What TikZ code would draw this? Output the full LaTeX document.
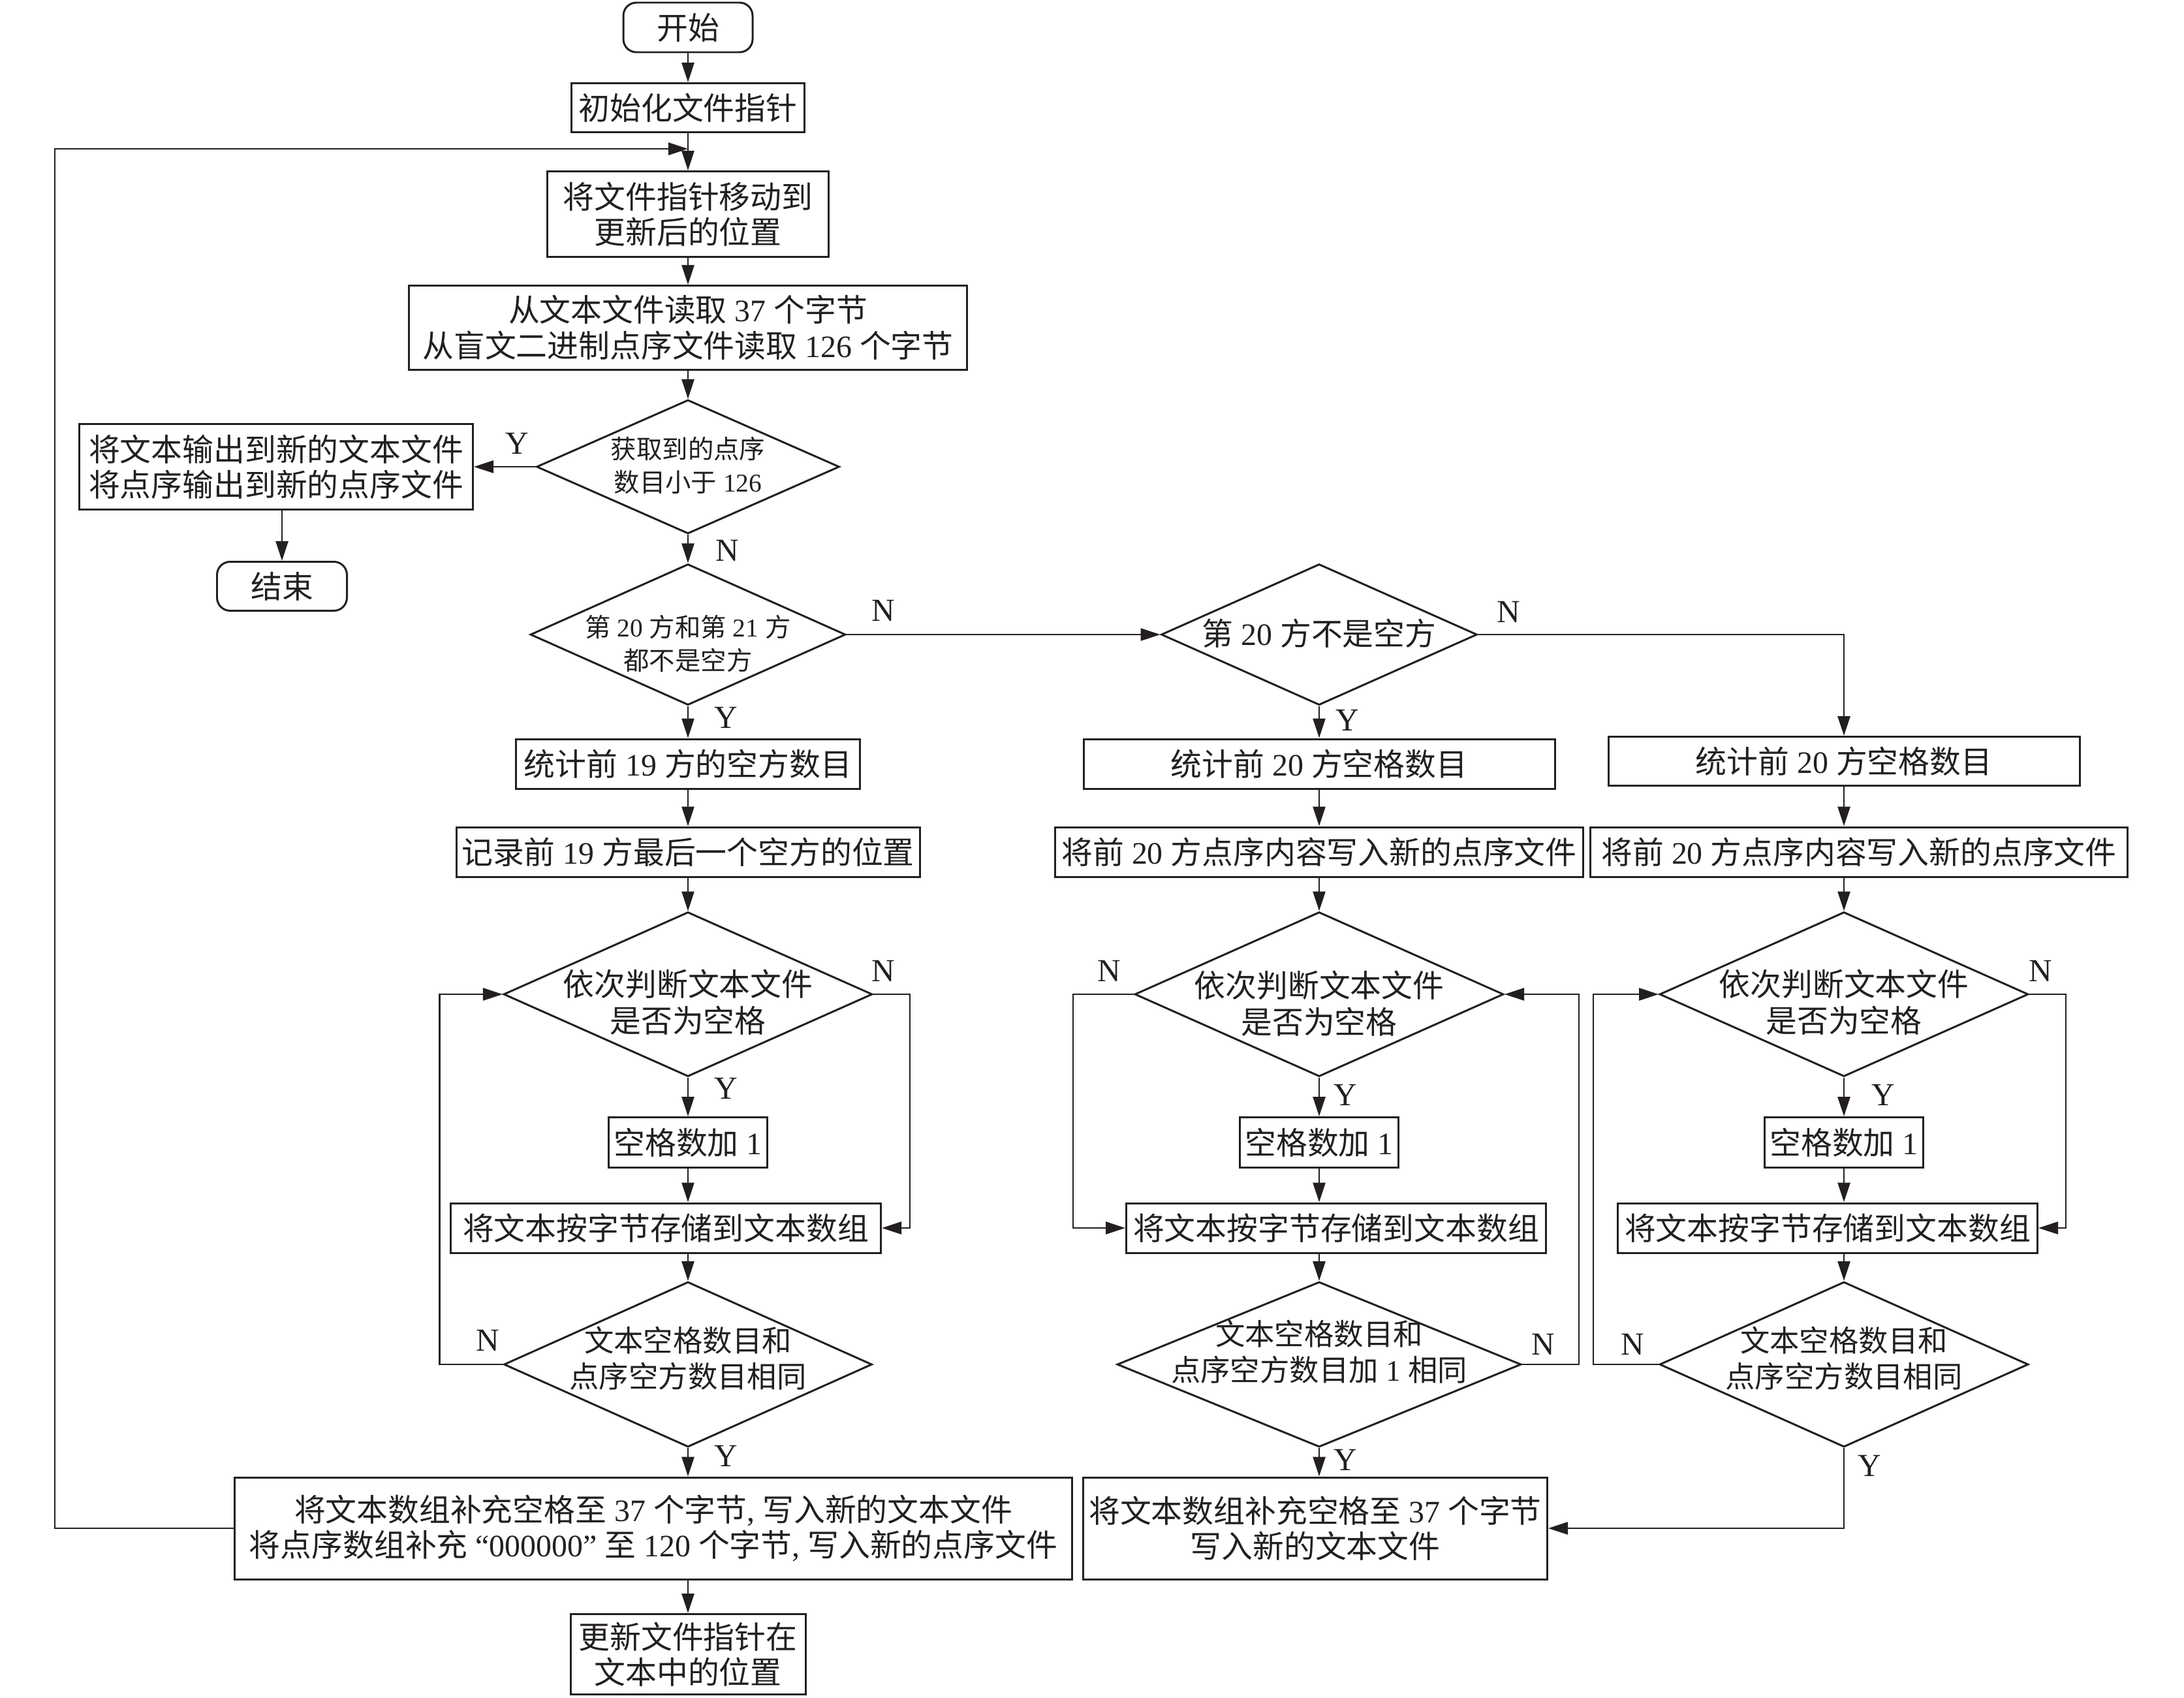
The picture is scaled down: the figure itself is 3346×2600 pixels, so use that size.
\documentclass[tikz,border=0pt]{standalone}
\usepackage{fontspec}
\setmainfont{Noto Sans CJK SC}
\newfontfamily\latf{Liberation Serif}
\newcommand\TN[1]{{\latf #1}}
\usetikzlibrary{arrows.meta,shapes.geometric}
\definecolor{ink}{HTML}{231F20}
\begin{document}
\begin{tikzpicture}[x=0.01cm,y=-0.01cm,
  base/.style={font=\fontsize{13.6}{15.5}\selectfont, align=center, inner sep=0pt, text=ink},
  box/.style={base, draw=ink, line width=0.85pt, rectangle},
  term/.style={box, rounded corners=0.2cm},
  sz/.style 2 args={minimum width=#1*0.01cm, minimum height=#2*0.01cm},
  dia/.style={draw=ink, line width=0.85pt, diamond, inner sep=0pt, shape aspect=2},
  dsmall/.style={base, font=\fontsize{11.2}{14.5}\selectfont},
  dmid/.style={base, font=\fontsize{13.6}{16}\selectfont},
  dcmp/.style={base, font=\fontsize{12.9}{15.6}\selectfont},
  lab/.style={font=\fontsize{14}{16}\selectfont\latf, inner sep=0pt, text=ink},
  arr/.style={draw=ink, line width=0.75pt, -{Triangle[length=0.3cm,width=0.19cm]}},
  ln/.style={draw=ink, line width=0.75pt}]
\path[use as bounding box, fill=white] (0,0) rectangle (3346,2600);

% ---- main column ----
\node[term, sz={198}{76}] (start) at (1054,42) {开始};
\node[box, sz={357}{75}] (init) at (1054,165) {初始化文件指针};
\node[box, sz={431}{131}] (move) at (1054,328) {将文件指针移动到\\更新后的位置};
\node[box, sz={855}{129}] (read) at (1054,502) {从文本文件读取\TN{ 37 }个字节\\从盲文二进制点序文件读取\TN{ 126 }个字节};
\node[dia, sz={464}{205}] (d1) at (1054,715) {};
\node[dsmall] (d1t) at (1054,713) {获取到的点序\\数目小于\TN{ 126}};
\node[box, sz={603}{131}] (out) at (423,715) {将文本输出到新的文本文件\\将点序输出到新的点序文件};
\node[term, sz={199}{75}] (end) at (432,898) {结束};
\node[dia, sz={483}{216}] (d2) at (1054,972) {};
\node[dsmall] (d2t) at (1054,986) {第\TN{ 20 }方和第\TN{ 21 }方\\都不是空方};
\node[box, sz={527}{76}] (c19) at (1054,1170) {统计前\TN{ 19 }方的空方数目};
\node[box, sz={710}{76}] (r19) at (1054,1305) {记录前\TN{ 19 }方最后一个空方的位置};
\node[dia, sz={565}{252}] (d3) at (1054,1523) {};
\node[dmid] (d3t) at (1054,1535) {依次判断文本文件\\是否为空格};
\node[box, sz={243}{77}] (a1) at (1054,1750) {空格数加\TN{ 1}};
\node[box, sz={659}{76}] (s1) at (1020,1881) {将文本按字节存储到文本数组};
\node[dia, sz={564}{253}] (d4) at (1054,2090) {};
\node[dcmp] (d4t) at (1054,2081) {文本空格数目和\\点序空方数目相同};
\node[box, sz={1283}{156}] (b1) at (1001,2341) {将文本数组补充空格至\TN{ 37 }个字节\TN{, }写入新的文本文件\\将点序数组补充\TN{ “000000” }至\TN{ 120 }个字节\TN{, }写入新的点序文件};
\node[box, sz={360}{123}] (u1) at (1054,2534) {更新文件指针在\\文本中的位置};

% ---- middle column ----
\node[dia, sz={484}{216}] (d5) at (2021,972) {};
\node[dmid] (d5t) at (2021,970) {第\TN{ 20 }方不是空方};
\node[box, sz={722}{76}] (c20a) at (2021,1170) {统计前\TN{ 20 }方空格数目};
\node[box, sz={809}{76}] (w20a) at (2021,1305) {将前\TN{ 20 }方点序内容写入新的点序文件};
\node[dia, sz={565}{252}] (d6) at (2021,1523) {};
\node[dmid] (d6t) at (2021,1537) {依次判断文本文件\\是否为空格};
\node[box, sz={243}{77}] (a2) at (2021,1750) {空格数加\TN{ 1}};
\node[box, sz={643}{76}] (s2) at (2047,1881) {将文本按字节存储到文本数组};
\node[dia, sz={619}{253}] (d8) at (2021,2090) {};
\node[dcmp] (d8t) at (2021,2071) {文本空格数目和\\点序空方数目加\TN{ 1 }相同};
\node[box, sz={711}{156}] (b2) at (2015,2341) {将文本数组补充空格至\TN{ 37 }个字节\\写入新的文本文件};

% ---- right column ----
\node[box, sz={722}{75}] (c20b) at (2825,1166) {统计前\TN{ 20 }方空格数目};
\node[box, sz={823}{76}] (w20b) at (2848,1305) {将前\TN{ 20 }方点序内容写入新的点序文件};
\node[dia, sz={565}{252}] (d7) at (2825,1523) {};
\node[dmid] (d7t) at (2825,1535) {依次判断文本文件\\是否为空格};
\node[box, sz={243}{77}] (a3) at (2825,1750) {空格数加\TN{ 1}};
\node[box, sz={643}{76}] (s3) at (2800,1881) {将文本按字节存储到文本数组};
\node[dia, sz={565}{253}] (d9) at (2825,2090) {};
\node[dcmp] (d9t) at (2825,2081) {文本空格数目和\\点序空方数目相同};

% ---- loop coordinates ----
\coordinate (lpL) at (84,228);
\coordinate (lpR) at (1054,228);

% ---- connectors main ----
\draw[arr] (start) -- (init);
\draw[arr] (init) -- (move);
\draw[arr] (b1.west) -| (lpL) -- (lpR);
\draw[arr] (move) -- (read);
\draw[arr] (read) -- (d1);
\draw[arr] (d1.west) -- (out.east);
\draw[arr] (out.south -| end) -- (end.north);
\draw[arr] (d1) -- (d2);
\draw[arr] (d2.east) -- (d5.west);
\draw[arr] (d5.east) -| (c20b.north);
\draw[arr] (d2) -- (c19);
\draw[arr] (c19) -- (r19);
\draw[arr] (r19) -- (d3);
\draw[arr] (d3) -- (a1);
\draw[arr] (a1.south) -- (a1.south |- s1.north);
\draw[arr] (s1.south -| d4) -- (d4.north);
\draw[arr] (d3.east) -- ++(56,0) |- (s1.east);
\draw[arr] (d4.west) -- ++(-97,0) |- (d3.west);
\draw[arr] (d4.south) -- (d4.south |- b1.north);
\draw[arr] (b1.south -| u1) -- (u1.north);

% ---- connectors middle ----
\draw[arr] (d5) -- (c20a);
\draw[arr] (c20a) -- (w20a);
\draw[arr] (w20a) -- (d6);
\draw[arr] (d6) -- (a2);
\draw[arr] (a2.south) -- (a2.south |- s2.north);
\draw[arr] (s2.south -| d8) -- (d8.north);
\draw[arr] (d8.south) -- (d8.south |- b2.north);
\draw[arr] (d6.west) -- ++(-93,0) |- (s2.west);
\draw[arr] (d8.east) -- ++(87,0) |- (d6.east);

% ---- connectors right ----
\draw[arr] (c20b.south) -- (c20b.south |- w20b.north);
\draw[arr] (w20b.south -| d7) -- (d7.north);
\draw[arr] (d7) -- (a3);
\draw[arr] (a3.south) -- (a3.south |- s3.north);
\draw[arr] (s3.south -| d9) -- (d9.north);
\draw[arr] (d7.east) -- ++(56,0) |- (s3.east);
\draw[arr] (d9.west) -- ++(-100,0) |- (d7.west);
\draw[arr] (d9.south) |- (b2.east);

% ---- labels ----
\node[lab] (lY1) at (792,679) {Y};
\node[lab] (lN1) at (1114,843) {N};
\node[lab] (lN2) at (1353,935) {N};
\node[lab] (lY2) at (1112,1099) {Y};
\node[lab] (lN3) at (2311,937) {N};
\node[lab] (lY3) at (2064,1103) {Y};
\node[lab] (lN4) at (1353,1487) {N};
\node[lab] (lY4) at (1112,1667) {Y};
\node[lab] (lN5) at (1699,1487) {N};
\node[lab] (lY5) at (2061,1677) {Y};
\node[lab] (lN6) at (3126,1487) {N};
\node[lab] (lY6) at (2885,1677) {Y};
\node[lab] (lN7) at (747,2053) {N};
\node[lab] (lY7) at (1112,2230) {Y};
\node[lab] (lN8) at (2364,2059) {N};
\node[lab] (lY8) at (2061,2236) {Y};
\node[lab] (lN9) at (2501,2059) {N};
\node[lab] (lY9) at (2864,2245) {Y};
\end{tikzpicture}
\end{document}
